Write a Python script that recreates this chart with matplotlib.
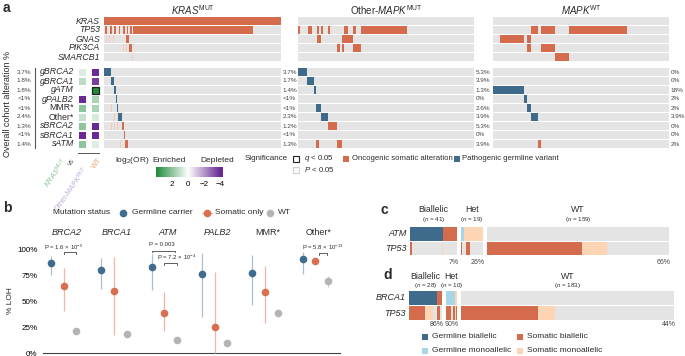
import numpy as np
import matplotlib
matplotlib.use('Agg')
import matplotlib.pyplot as plt
from matplotlib.colors import LinearSegmentedColormap, Normalize
from matplotlib.patches import Rectangle

plt.rcParams['font.family'] = ['Liberation Sans', 'DejaVu Sans']
plt.rcParams['mathtext.fontset'] = 'custom'
plt.rcParams['mathtext.rm'] = 'Liberation Sans'
plt.rcParams['mathtext.it'] = 'Liberation Sans:italic'
plt.rcParams['mathtext.bf'] = 'Liberation Sans:bold'
plt.rcParams['text.color'] = '#2b2b2b'

# ---------------- panel a data ----------------
top_genes = ['KRAS', 'TP53', 'GNAS', 'PIK3CA', 'SMARCB1']
alt_rows = ['gBRCA2', 'gBRCA1', 'gATM', 'gPALB2', 'MMR*', 'Other*', 'sBRCA2', 'sBRCA1', 'sATM']
overall_pct = ['3.7%', '1.8%', '1.8%', '<1%', '<1%', '2.4%', '1.3%', '<1%', '1.4%']
kras_pct = ['3.7%', '1.7%', '1.4%', '<1%', '<1%', '2.3%', '1.2%', '<1%', '1.3%']
other_pct = ['5.3%', '3.9%', '1.3%', '0%', '2.6%', '3.9%', '5.3%', '0%', '3.9%']
wt_pct = ['0%', '0%', '18%', '2%', '2%', '3.9%', '0%', '0%', '2%']

# log2(OR): KRAS-mut vs other-MAPK-mut, and WT column
log2or_kras = [0.6, 1.2, 0.15, -4.0, 2.0, 1.0, 2.0, -4.0, 2.0]
log2or_wt = [-4.0, -3.6, 4.0, 1.5, 1.5, 0.7, -4.0, -4.0, 0.6]
q_sig_wt = [False, False, True, False, False, False, False, False, False]

# oncoprint segments: (start, width) in % of samples of each subgroup
kras_som = {
    'KRAS': [(0, 100)],
    'TP53': [(0.6, 0.9), (3.2, 1.1), (5.4, 1.4), (8.2, 0.9), (10.6, 1.2), (12.8, 0.8),
             (14.6, 1.0), (16.6, 67.8)],
    'GNAS': [(12.4, 1.9)],
    'PIK3CA': [(14.3, 1.3)],
    'sBRCA2': [(10.2, 1.2)],
    'sBRCA1': [(11.4, 0.6)],
    'sATM': [(12.0, 1.3)],
}
kras_germ = {'gBRCA2': [(0, 3.7)], 'gBRCA1': [(3.7, 1.7)], 'gATM': [(5.4, 1.4)],
             'gPALB2': [(6.8, 0.5)], 'MMR*': [(7.3, 0.6)], 'Other*': [(7.9, 2.3)]}
kras_faint = {
    'GNAS': [(1.4, 0.5), (3.1, 0.5), (5.1, 0.5)],
    'PIK3CA': [(10.7, 0.5), (12.4, 0.5)],
    'SMARCB1': [(15.8, 0.7)],
    'MMR*': [(4.0, 0.4)],
    'Other*': [(5.5, 0.5)],
    'sBRCA2': [(4.0, 0.5), (5.9, 0.5), (7.3, 0.5)],
    'sATM': [(9.0, 0.4)],
}
other_som = {
    'TP53': [(0, 1.3), (5.5, 2.3), (10.6, 1.1), (13.1, 1.3), (17.2, 1.1), (26.3, 2.3),
             (31.4, 1.3), (35.6, 26.1)],
    'GNAS': [(10.6, 2.6), (24.8, 6.6)],
    'PIK3CA': [(22.3, 1.3), (24.8, 1.3), (31.4, 4.2)],
    'sBRCA2': [(17.1, 5.3)],
    'sATM': [(10.5, 1.3), (22.4, 2.6)],
}
other_germ = {'gBRCA2': [(0, 5.3)], 'gBRCA1': [(5.3, 3.9)], 'gATM': [(9.2, 1.3)],
              'MMR*': [(10.5, 2.6)], 'Other*': [(13.1, 3.9)]}
wt_som = {
    'TP53': [(21.6, 3.9), (27.5, 7.8), (43.1, 33.3)],
    'GNAS': [(4.0, 13.8), (19.6, 2.0)],
    'PIK3CA': [(19.6, 2.0), (27.5, 7.8)],
    'SMARCB1': [(35.3, 7.8)],
    'sATM': [(25.5, 2.0)],
}
wt_germ = {'gATM': [(0, 17.6)], 'gPALB2': [(17.6, 2.0)], 'MMR*': [(19.6, 2.0)],
           'Other*': [(21.6, 3.9)]}

# ---------------- panel b data ----------------
loh_genes = ['BRCA2', 'BRCA1', 'ATM', 'PALB2', 'MMR*', 'Other*']
germ_loh = [87, 79.5, 83, 75.5, 77, 90.5]
germ_lo = [75, 62, 61, 35, 46, 76]
germ_hi = [93, 91, 95, 96, 94, 97]
som_loh = [64, 60, 38.5, 25, 58.5, 88]
som_lo = [40.5, 17, 21, 0, 28.5, 86]
som_hi = [82, 92.5, 59, 78, 84, 90]
wt_loh = [21, 18, 12.5, 9.5, 38, 69.5]
wt_lo = [20, 17, 11.5, 8.5, 36.5, 63]
wt_hi = [22, 19, 13.5, 10.5, 39.5, 74]

# ---------------- panels c, d data ----------------
c_rows = ['ATM', 'TP53']
c_n = [41, 19, 159]
c_runs = [
    [[('GB', 29), ('SB', 12)], [('GM', 3), ('SM', 16)], [('-', 159)]],
    [[('SB', 2), ('-', 26), ('SM', 1), ('-', 12)], [('SB', 1), ('-', 3), ('SB', 4), ('-', 11)],
     [('SB', 83), ('SM', 22), ('-', 54)]],
]
c_pct = ['7%', '26%', '66%']
d_rows = ['BRCA1', 'TP53']
d_n = [28, 10, 183]
d_runs = [
    [[('GB', 24), ('SB', 4)], [('GM', 8), ('SM', 2)], [('-', 183)]],
    [[('SB', 14), ('SM', 7), ('-', 3), ('SB', 3), ('-', 1)],
     [('SB', 5), ('-', 1), ('SB', 2), ('SM', 1), ('SB', 1)],
     [('SB', 66), ('SM', 15), ('-', 102)]],
]
d_pct = ['86%', '90%', '44%']
group_names = ['Biallelic', 'Het', 'WT']

ORANGE = '#d36b4c'
BLUE = '#3e6a8c'
GRAY = '#e4e4e4'
FAINT = '#f2c9bb'
code_col = {'GB': BLUE, 'SB': ORANGE, 'GM': '#a9d6e7', 'SM': '#fdd5b4', '-': GRAY}

W, H = 685, 356
fig = plt.figure(figsize=(W / 100, H / 100), dpi=100)


def px_axes(x0, y0, x1, y1, **kw):
    return fig.add_axes([x0 / W, 1 - y1 / H, (x1 - x0) / W, (y1 - y0) / H], **kw)


ov = fig.add_axes([0, 0, 1, 1], zorder=10)
ov.set_xlim(0, W)
ov.set_ylim(H, 0)
ov.axis('off')
ov.patch.set_alpha(0)

# ================= panel a =================
row_y = list(21 + 9 * np.arange(5)) + list(72 + 9 * np.arange(9))
all_rows = top_genes + alt_rows
panel_x = [(104, 281), (298, 474), (493, 669)]
panel_data = [(kras_som, kras_germ, kras_faint, kras_pct),
              (other_som, other_germ, {}, other_pct),
              (wt_som, wt_germ, {}, wt_pct)]
titles = [r'$\it{KRAS}^{\rm MUT}$', r'Other-$\it{MAPK}^{\rm MUT}$', r'$\it{MAPK}^{\rm WT}$']

for (x0, x1), (som, germ, faint, pct), title in zip(panel_x, panel_data, titles):
    ax = px_axes(x0, 15, x1, 150)
    ax.set_xlim(0, 100)
    ax.set_ylim(150, 15)
    ax.axis('off')
    for name, y in zip(all_rows, row_y):
        ax.barh(y, 100, height=7.6, color=GRAY, lw=0)
        for s, w in faint.get(name, []):
            ax.barh(y, w, left=s, height=7.6, color=FAINT, lw=0)
        for s, w in som.get(name, []):
            ax.barh(y, w, left=s, height=7.6, color=ORANGE, lw=0)
        for s, w in germ.get(name, []):
            ax.barh(y, w, left=s, height=7.6, color=BLUE, lw=0)
    for y, p in zip(row_y[5:], pct):
        ax.text(101, y, p, ha='left', va='center', fontsize=4.6, color='#444')
    ov.text((x0 + x1) / 2, 10, title, ha='center', va='center', fontsize=7)

for name, y in zip(top_genes, row_y[:5]):
    ov.text(100, y, name, ha='right', va='center', fontsize=6.3, style='italic')
for name, y, p in zip(alt_rows, row_y[5:], overall_pct):
    st = 'normal' if name in ('MMR*', 'Other*') else 'italic'
    ov.text(74, y, name, ha='right', va='center', fontsize=6.3, style=st)
    ov.text(31, y, p, ha='right', va='center', fontsize=4.6, color='#444')
ov.plot([35, 35], [68, 148], color='#555', lw=0.8)
ov.text(8, 104, 'Overall cohort alteration %', rotation=90, ha='center', va='center', fontsize=6.5)

cmap = LinearSegmentedColormap.from_list('or', ['#6a2a94', '#ffffff', '#1f8b3b'])
norm = Normalize(-4, 4)
for y, v1, v2, q in zip(row_y[5:], log2or_kras, log2or_wt, q_sig_wt):
    ov.add_patch(Rectangle((79, y - 3.5), 7, 7, fc=cmap(norm(v1)), ec='none'))
    ov.add_patch(Rectangle((92, y - 3.5), 7, 7, fc=cmap(norm(v2)),
                           ec='#222' if q else 'none', lw=0.9))
ov.plot([78, 99], [152.5, 152.5], color='#555', lw=0.7)
ov.text(61, 156, r'$\it{KRAS}^{\rm MUT}$', rotation=55, ha='right', va='top',
        rotation_mode='anchor', color='#86c48f', fontsize=5.3)
ov.text(71, 157, 'vs', rotation=55, ha='right', va='top', rotation_mode='anchor',
        color='#555', fontsize=5)
ov.text(82, 164, r'Other-$\it{MAPK}^{\rm MUT}$', rotation=55, ha='right', va='top',
        rotation_mode='anchor', color='#bca9d8', fontsize=5)
ov.text(98, 156, 'WT', rotation=55, ha='right', va='top', rotation_mode='anchor',
        color='#f0a66e', fontsize=5.5)

# colour bar
cax = px_axes(156, 167, 223, 177)
grad = np.linspace(4.0, -4.3, 256)
cax.imshow(grad[None, :], extent=[4.0, -4.3, 0, 1], aspect='auto', cmap=cmap, norm=norm)
cax.set_xlim(4.0, -4.3)
cax.set_yticks([])
cax.set_xticks([2, 0, -2, -4])
cax.set_xticklabels(['2', '0', '\u22122', '\u22124'], fontsize=5.8)
cax.tick_params(length=0, pad=3)
for s in cax.spines.values():
    s.set_visible(False)
ov.text(115, 160, r'log$_2$(OR)', ha='left', va='center', fontsize=6)
ov.text(152, 160, 'Enriched', ha='left', va='center', fontsize=6)
ov.text(234, 160, 'Depleted', ha='right', va='center', fontsize=6)

# significance / alteration legend
ov.text(245, 159, 'Significance', ha='left', va='center', fontsize=5.8)
ov.add_patch(Rectangle((293, 156), 6, 6, fc='white', ec='#222', lw=0.8))
ov.text(304, 159, r'$\it{q}$ < 0.05', ha='left', va='center', fontsize=5.6)
ov.add_patch(Rectangle((293, 167), 6, 6, fc='white', ec='#d0d0d0', lw=0.8))
ov.text(304, 170, r'$\it{P}$ < 0.05', ha='left', va='center', fontsize=5.6)
ov.add_patch(Rectangle((343, 156), 6, 6, fc=ORANGE, ec='none'))
ov.text(352, 159, 'Oncogenic somatic alteration', ha='left', va='center', fontsize=5.6)
ov.add_patch(Rectangle((454, 156), 6, 6, fc=BLUE, ec='none'))
ov.text(462, 159, 'Pathogenic germline variant', ha='left', va='center', fontsize=5.6)

# ================= panel b =================
axb = px_axes(43, 249, 340, 353)
xg = np.arange(len(loh_genes))
series = [(xg - 0.25, germ_loh, germ_lo, germ_hi, '#3f6b8e', '#aabfcf'),
          (xg, som_loh, som_lo, som_hi, '#d86f4f', '#f2b7a2'),
          (xg + 0.25, wt_loh, wt_lo, wt_hi, '#b4b4b4', '#cfcfcf')]
for x, v, lo, hi, c, ec in series:
    v, lo, hi = np.array(v), np.array(lo), np.array(hi)
    axb.errorbar(x, v, yerr=[v - lo, hi - v], fmt='o', color=c, ecolor=ec, elinewidth=0.9,
                 capsize=1.8, capthick=0.8, ms=5.5, mew=0, clip_on=False, zorder=3)
axb.set_xlim(-0.41, 5.49)
axb.set_ylim(0, 100)
axb.set_yticks([0, 25, 50, 75, 100])
axb.set_yticklabels(['0%', '25%', '50%', '75%', '100%'], fontsize=5.8)
axb.set_xticks([])
axb.tick_params(length=0, pad=4)
for s in ['left', 'top', 'right']:
    axb.spines[s].set_visible(False)
axb.spines['bottom'].set_color('#444')
axb.spines['bottom'].set_linewidth(0.8)
for i, g in enumerate(loh_genes):
    st = 'normal' if g.endswith('*') else 'italic'
    axb.text(i + 0.06, 116, g, ha='center', va='center', fontsize=6.5, style=st)


def bracket(ax, x0, x1, y, label, ty, tx=None):
    ax.plot([x0, x0, x1, x1], [y - 1.5, y, y, y - 1.5], color='#444', lw=0.6, clip_on=False)
    ax.text((x0 + x1) / 2 if tx is None else tx, ty, label, ha='center', va='center', fontsize=4.3)


bracket(axb, 0.0, 0.25, 97, r'P = 1.6 × 10$^{-5}$', 101.5, 0.0)
bracket(axb, 1.75, 2.22, 98.5, 'P = 0.003', 104, 1.95)
bracket(axb, 2.0, 2.25, 86.5, r'P = 7.2 × 10$^{-4}$', 92, 2.25)
bracket(axb, 5.08, 5.24, 96, r'P = 5.8 × 10$^{-13}$', 101.5, 5.15)

ov.text(11, 301, '% LOH', rotation=90, ha='center', va='center', fontsize=6)
ov.text(53, 213, 'Mutation status', ha='left', va='center', fontsize=6)
ov.plot(123, 213, 'o', ms=5.5, color='#3f6b8e', mew=0)
ov.text(132, 213, 'Germline carrier', ha='left', va='center', fontsize=6)
ov.plot([202, 212], [213, 213], color='#f2b7a2', lw=0.9)
ov.plot(207, 213, 'o', ms=5.5, color='#d86f4f', mew=0)
ov.text(215, 213, 'Somatic only', ha='left', va='center', fontsize=6)
ov.plot(270, 213, 'o', ms=5.5, color='#b4b4b4', mew=0)
ov.text(278, 213, 'WT', ha='left', va='center', fontsize=6)

# ================= panels c, d =================
gap = 3.5


def draw_status(ax, rows, ns, runs, pct, ty, ny, py):
    starts = np.cumsum([0] + [n + gap for n in ns[:-1]])
    total = sum(ns) + gap * (len(ns) - 1)
    ax.set_xlim(0, total)
    ax.set_ylim(1.5, -0.5)
    ax.axis('off')
    for r, row_runs in enumerate(runs):
        for g0, grp in zip(starts, row_runs):
            left = g0
            for code, cnt in grp:
                ax.barh(r, cnt, left=left, height=0.9, color=code_col[code], lw=0)
                left += cnt
        ax.text(-3, r, rows[r], ha='right', va='center', fontsize=6.5, style='italic')
    for g0, n, name, p in zip(starts, ns, group_names, pct):
        ax.text(g0 + n / 2, ty, name, ha='center', va='center', fontsize=6.3)
        ax.text(g0 + n / 2, ny, r'($\it{n}$ = %d)' % n, ha='center', va='center', fontsize=4.5)
        ax.text(g0 + n + 1.5, py, p, ha='right', va='center', fontsize=5, color='#444')


axc = px_axes(410, 226.5, 669, 256)
draw_status(axc, c_rows, c_n, c_runs, c_pct, -1.66, -1.0, 1.93)
axd = px_axes(409, 290.5, 674, 320.5)
draw_status(axd, d_rows, d_n, d_runs, d_pct, -1.42, -0.84, 1.78)

leg = [('Germline biallelic', 'GB', 422, 337), ('Somatic biallelic', 'SB', 517, 337),
       ('Germline monoallelic', 'GM', 422, 351), ('Somatic monoallelic', 'SM', 517, 351)]
for label, code, lx, ly in leg:
    ov.add_patch(Rectangle((lx, ly - 3.3), 6.5, 6.5, fc=code_col[code], ec='none'))
    ov.text(lx + 10, ly, label, ha='left', va='center', fontsize=6)

for t, x, y in [('a', 3, 8), ('b', 3, 208), ('c', 381, 210), ('d', 383, 275)]:
    ov.text(x, y, t, ha='left', va='center', fontsize=10, fontweight='bold')

fig.savefig('out.png', dpi=100)
